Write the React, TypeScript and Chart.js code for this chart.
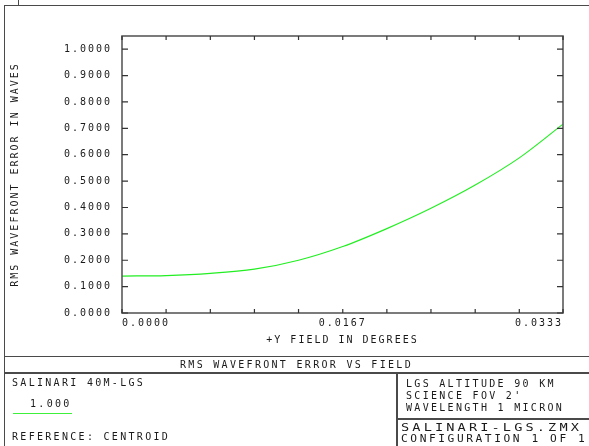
import React, { useEffect, useRef } from 'react';
import { Chart, registerables } from 'chart.js';

Chart.register(...registerables);

// ---- data ----
const FIELD_DEG = [0, 0.00333, 0.00667, 0.01, 0.01333, 0.01667, 0.02, 0.02333, 0.02667, 0.03, 0.0333];
const RMS_WAVES = [0.140, 0.142, 0.150, 0.166, 0.200, 0.252, 0.320, 0.397, 0.485, 0.588, 0.716];
const X_TICKS = [0, 0.00333, 0.00667, 0.01, 0.01333, 0.01667, 0.02, 0.02333, 0.02667, 0.03, 0.0333];
const X_TICK_LABELS = ['0.0000', '', '', '', '', '0.0167', '', '', '', '', '0.0333'];
const Y_TICKS = [0, 0.1, 0.2, 0.3, 0.4, 0.5, 0.6, 0.7, 0.8, 0.9, 1.0];
const X_MAX = 0.0333;
const Y_MAX = 1.05;

const W = 589;
const H = 446;
const FONT = '"DejaVu Sans Mono", "Liberation Mono", monospace';
const INK = '#1a1a1a';
const LINE = '#4a4a4a';
const GREEN = '#22ee22';

const framePlugin = {
  id: 'zemaxFrame',
  beforeDraw(chart: any) {
    chart.ctx.letterSpacing = '2px';
  },
  afterDraw(chart: any) {
    const { ctx, chartArea, scales } = chart;
    const { left, right, top, bottom } = chartArea;
    const xs = scales.x;
    const ys = scales.y;
    ctx.save();
    ctx.letterSpacing = '0px';
    ctx.strokeStyle = '#5a5a5a';
    ctx.lineWidth = 1.6;
    ctx.strokeRect(left, top, right - left, bottom - top);
    ctx.lineWidth = 1.2;
    ctx.strokeStyle = '#333';
    ctx.beginPath();
    xs.ticks.forEach((t: any) => {
      const px = xs.getPixelForValue(t.value);
      ctx.moveTo(px, bottom);
      ctx.lineTo(px, bottom - 4);
      ctx.moveTo(px, top);
      ctx.lineTo(px, top + 4);
    });
    ys.ticks.forEach((t: any) => {
      const py = ys.getPixelForValue(t.value);
      ctx.moveTo(left, py);
      ctx.lineTo(left + 6, py);
      ctx.moveTo(right, py);
      ctx.lineTo(right - 6, py);
    });
    ctx.stroke();
    ctx.restore();
    ctx.letterSpacing = '0px';
  },
};

function HLine({ x, y, w }: { x: number; y: number; w: number }) {
  return <div style={{ position: 'absolute', left: x, top: y, width: w, height: 1.6, background: LINE }} />;
}
function VLine({ x, y, h }: { x: number; y: number; h: number }) {
  return <div style={{ position: 'absolute', left: x, top: y, width: 1.6, height: h, background: LINE }} />;
}
function Txt({ x, cy, text, sx = 1, spacing = 2.3, center = false }: any) {
  const base: any = {
    position: 'absolute',
    top: cy - 6,
    height: 12,
    lineHeight: '12px',
    fontFamily: FONT,
    fontSize: 10,
    letterSpacing: spacing + 'px',
    color: INK,
    whiteSpace: 'pre',
  };
  if (center) {
    return <div style={{ ...base, left: 4, width: W - 4, textAlign: 'center' }}>{text}</div>;
  }
  return (
    <div style={{ ...base, left: x, transform: `scaleX(${sx})`, transformOrigin: 'left center' }}>{text}</div>
  );
}

export default function App() {
  const ref = useRef<HTMLCanvasElement | null>(null);

  useEffect(() => {
    if (!ref.current) return;
    const chart = new Chart(ref.current, {
      type: 'line',
      data: {
        datasets: [
          {
            data: FIELD_DEG.map((x, i) => ({ x, y: RMS_WAVES[i] })),
            borderColor: GREEN,
            borderWidth: 1.2,
            pointRadius: 0,
            cubicInterpolationMode: 'monotone',
            fill: false,
          },
        ],
      },
      options: {
        animation: false,
        responsive: false,
        maintainAspectRatio: false,
        layout: { padding: { left: 0, right: 26, top: 36, bottom: 0 } },
        plugins: { legend: { display: false }, tooltip: { enabled: false } },
        scales: {
          x: {
            type: 'linear',
            min: 0,
            max: X_MAX,
            afterBuildTicks: (s: any) => {
              s.ticks = X_TICKS.map((v) => ({ value: v }));
            },
            afterFit: (s: any) => {
              s.height = H - 313;
            },
            grid: { display: true, drawOnChartArea: false, drawTicks: false, color: 'rgba(0,0,0,0)' },
            border: { display: false },
            ticks: {
              autoSkip: false,
              maxRotation: 0,
              align: 'inner',
              padding: 4,
              color: INK,
              font: { family: FONT, size: 10 },
              callback: (_v: any, i: number) => X_TICK_LABELS[i],
            },
            title: {
              display: true,
              text: '+Y FIELD IN DEGREES',
              color: INK,
              font: { family: FONT, size: 10 },
              padding: { top: 0, bottom: 100 },
            },
          },
          y: {
            type: 'linear',
            min: 0,
            max: Y_MAX,
            afterBuildTicks: (s: any) => {
              s.ticks = Y_TICKS.map((v) => ({ value: v }));
            },
            afterFit: (s: any) => {
              s.width = 122;
            },
            grid: { display: true, drawOnChartArea: false, drawTicks: false, color: 'rgba(0,0,0,0)' },
            border: { display: false },
            ticks: {
              autoSkip: false,
              padding: 10,
              color: INK,
              font: { family: FONT, size: 10 },
              callback: (v: any) => Number(v).toFixed(4),
            },
            title: {
              display: true,
              text: 'RMS WAVEFRONT ERROR IN WAVES',
              color: INK,
              font: { family: FONT, size: 10 },
              padding: { top: 9.5, bottom: 0 },
            },
          },
        },
      } as any,
      plugins: [framePlugin],
    });
    return () => chart.destroy();
  }, []);

  return (
    <div style={{ position: 'absolute', left: 0, top: 0, width: W, height: H, background: '#fff', overflow: 'hidden' }}>
      <canvas ref={ref} width={W} height={H} style={{ position: 'absolute', left: 0, top: 0, width: W, height: H }} />
      {/* outer frame */}
      <VLine x={17.5} y={0} h={5} />
      <HLine x={3.5} y={4.5} w={W} />
      <VLine x={3.5} y={4.5} h={H} />
      <HLine x={3.5} y={355.5} w={W} />
      <HLine x={3.5} y={372} w={W} />
      <VLine x={396} y={372} h={H} />
      <HLine x={396} y={418} w={W} />
      {/* texts */}
      <Txt center cy={365} text="RMS WAVEFRONT ERROR VS FIELD" />
      <Txt x={12} cy={383} text="SALINARI 40M-LGS" />
      <Txt x={30} cy={404} text="1.000" />
      <div style={{ position: 'absolute', left: 13, top: 413, width: 59, height: 1, background: '#3cf03c' }} />
      <Txt x={12} cy={437} text="REFERENCE: CENTROID" />
      <Txt x={406} cy={384} text="LGS ALTITUDE 90 KM" />
      <Txt x={406} cy={396} text="SCIENCE FOV 2'" />
      <Txt x={406} cy={408} text="WAVELENGTH 1 MICRON" />
      <Txt x={401} cy={428} text="SALINARI-LGS.ZMX" sx={1.36} />
      <Txt x={401} cy={439} text="CONFIGURATION 1 OF 1" sx={1.12} />
    </div>
  );
}
